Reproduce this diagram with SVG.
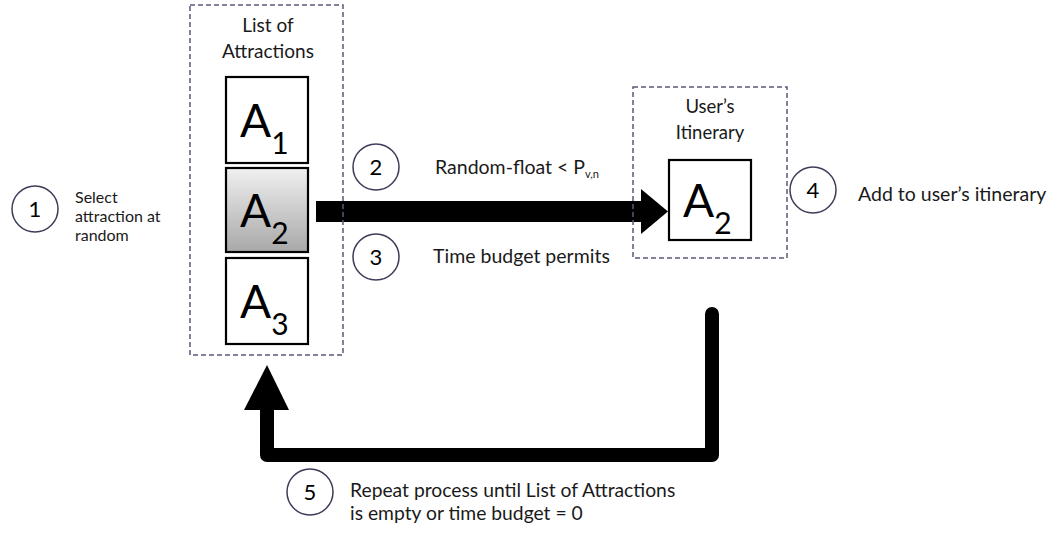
<svg xmlns="http://www.w3.org/2000/svg" width="1052" height="533" viewBox="0 0 1052 533">
  <defs>
    <linearGradient id="selGrad" x1="0" y1="0" x2="0" y2="1">
      <stop offset="0" stop-color="#f0f0f0"/>
      <stop offset="1" stop-color="#a8a8a8"/>
    </linearGradient>
    <style>
      .frame { fill: none; stroke: #5a5a78; stroke-width: 1.5; stroke-dasharray: 5 3; }
      .card { fill: #fff; stroke: #000; stroke-width: 2.2; }
      .step { fill: #fff; stroke: #3c3c58; stroke-width: 1.5; }
      .t { font-family: Lato, "Open Sans", "Liberation Sans", sans-serif; fill: #1a1a1a; }
      .big { font-family: Lato, "Open Sans", "Liberation Sans", sans-serif; font-size: 46px; fill: #000; }
      .sub { font-size: 30px; }
      .num { font-family: Lato, "Open Sans", "Liberation Sans", sans-serif; font-size: 22px; fill: #000; text-anchor: middle; }
    </style>
  </defs>
  <rect width="1052" height="533" fill="#fff"/>

  <!-- connectors -->
  <g id="connectors">
    <rect x="316" y="201" width="328" height="21" fill="#000"/>
    <polygon points="641,189 668,211.5 641,234" fill="#000"/>
    <path d="M712,314 V455 H267 V408" fill="none" stroke="#000" stroke-width="14" stroke-linejoin="round" stroke-linecap="round"/>
    <polygon points="244,410 289,410 267,365" fill="#000"/>
  </g>

  <!-- list of attractions -->
  <g id="attraction-list">
    <rect class="frame" x="190" y="5" width="153" height="350"/>
    <text class="t" x="268" y="32" font-size="19" text-anchor="middle">List of</text>
    <text class="t" x="268" y="58" font-size="19" text-anchor="middle">Attractions</text>
  </g>
  <g id="a1">
    <rect class="card" x="226" y="77" width="82" height="86"/>
    <text class="big" x="240" y="137">A<tspan class="sub" dy="17">1</tspan></text>
  </g>
  <g id="a2">
    <rect class="card" x="226" y="168" width="82" height="84" style="fill:url(#selGrad)"/>
    <text class="big" x="240" y="227">A<tspan class="sub" dy="17">2</tspan></text>
  </g>
  <g id="a3">
    <rect class="card" x="226" y="258" width="82" height="86"/>
    <text class="big" x="240" y="318">A<tspan class="sub" dy="17">3</tspan></text>
  </g>

  <!-- user's itinerary -->
  <g id="itinerary">
    <rect class="frame" x="633" y="87" width="154" height="171"/>
    <text class="t" x="710" y="113" font-size="18.5" text-anchor="middle">User’s</text>
    <text class="t" x="710" y="139" font-size="18.5" text-anchor="middle">Itinerary</text>
  </g>
  <g id="itinerary-a2">
    <rect class="card" x="669" y="160" width="82" height="80"/>
    <text class="big" x="683" y="217">A<tspan class="sub" dy="17">2</tspan></text>
  </g>

  <!-- steps -->
  <g id="step1">
    <circle class="step" cx="35" cy="209" r="23"/>
    <text class="num" x="35" y="217">1</text>
    <text class="t" font-size="16" x="75" y="203">Select</text>
    <text class="t" font-size="16" x="75" y="222">attraction at</text>
    <text class="t" font-size="16" x="75" y="241">random</text>
  </g>
  <g id="step2">
    <circle class="step" cx="376" cy="167" r="23"/>
    <text class="num" x="376" y="175">2</text>
    <text class="t" font-size="19.5" x="435" y="174">Random-float &lt; P<tspan font-size="11" dy="4">v,n</tspan></text>
  </g>
  <g id="step3">
    <circle class="step" cx="376" cy="257" r="23"/>
    <text class="num" x="376" y="265">3</text>
    <text class="t" font-size="19.5" x="433" y="263">Time budget permits</text>
  </g>
  <g id="step4">
    <circle class="step" cx="813" cy="190" r="23"/>
    <text class="num" x="813" y="198">4</text>
    <text class="t" font-size="19.5" x="858" y="201">Add to user’s itinerary</text>
  </g>
  <g id="step5">
    <circle class="step" cx="310" cy="492" r="23"/>
    <text class="num" x="310" y="500">5</text>
    <text class="t" font-size="19.3" x="350" y="497">Repeat process until List of Attractions</text>
    <text class="t" font-size="19.3" x="350" y="520">is empty or time budget = 0</text>
  </g>
</svg>
